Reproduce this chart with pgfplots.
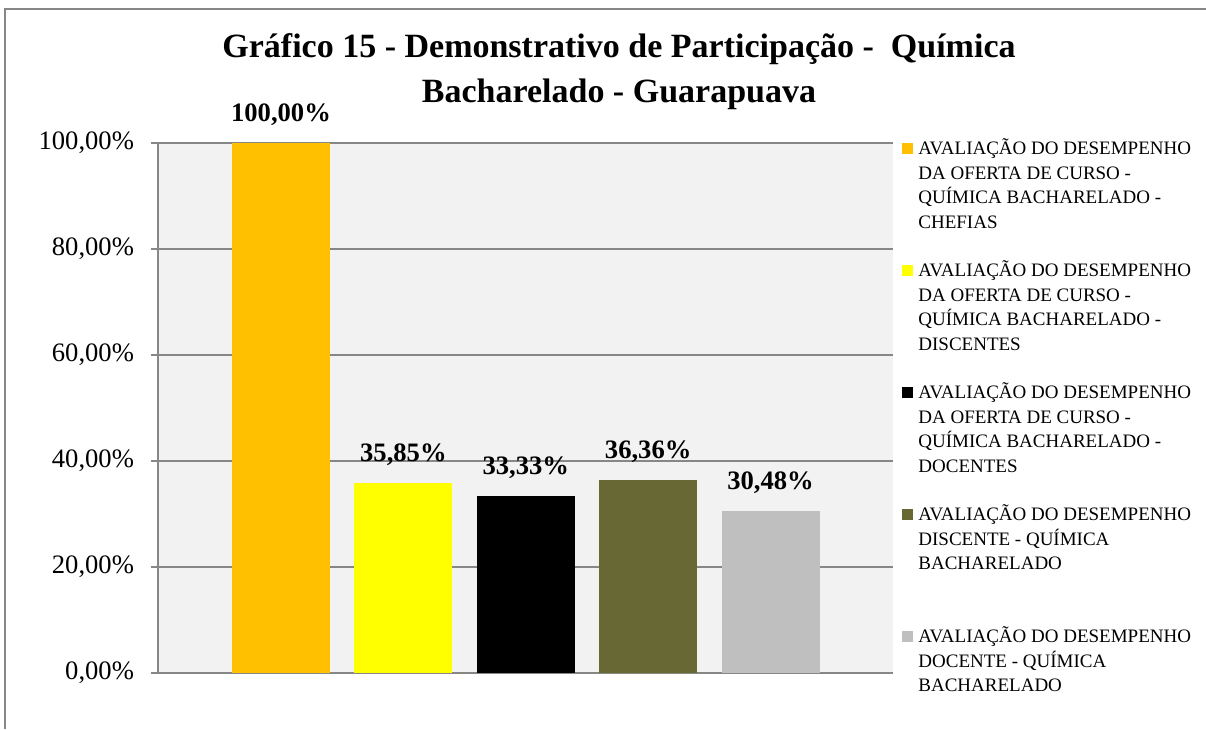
\documentclass[border=0pt]{standalone}
\usepackage{pgfplots}
\pgfplotsset{compat=1.18}
\usepackage{fontspec}
\setmainfont{Liberation Serif}
\definecolor{cOrange}{HTML}{FFC000}
\definecolor{cYellow}{HTML}{FFFF00}
\definecolor{cOlive}{HTML}{686835}
\definecolor{cSilver}{HTML}{BFBFBF}
\definecolor{cGrid}{HTML}{878787}
\definecolor{cBack}{HTML}{F2F2F2}
\newcommand{\legtxt}[1]{\parbox[t][61pt][t]{140pt}{\fontsize{9.5}{12.25}\selectfont #1}}
\begin{document}
\begin{tikzpicture}
\useasboundingbox (-79pt,-28pt) rectangle (524pt,336.5pt);
\draw[cGrid,line width=1pt] (-76.5pt,-28pt) -- (-76.5pt,332pt) -- (524pt,332pt);
\node[font=\fontsize{17}{22.5}\selectfont\bfseries,align=center,anchor=base]
  at (230.5pt,285pt) {Gráfico 15 - Demonstrativo de Participação -\ \ Química\\Bacharelado - Guarapuava};
\begin{axis}[at={(0pt,0pt)},anchor=south west,scale only axis,
  width=367.5pt,height=265pt,
  xmin=-1.005,xmax=5.0,ymin=0,ymax=100,
  ybar,bar width=0.8,bar shift=0pt,
  axis background/.style={fill=cBack},
  axis x line*=bottom, axis y line*=left,
  axis line style={cGrid,line width=0.7pt},
  xtick=\empty,
  ytick={0,20,40,60,80,100},
  ymajorgrids, grid style={cGrid,line width=0.7pt},
  major tick length=3.5pt, tick align=outside,
  tick style={cGrid,line width=0.7pt},
  yticklabel style={font=\fontsize{13.3}{15}\selectfont,xshift=-5pt},
  yticklabel={\pgfmathprintnumber[fixed,fixed zerofill,precision=2,use comma,assume math mode=true]{\tick}\%},
  nodes near coords={\pgfmathprintnumber[fixed,fixed zerofill,precision=2,use comma,assume math mode=true]{\pgfplotspointmeta}\%},
  every node near coord/.append style={font=\fontsize{13.3}{15}\selectfont\bfseries,black,inner sep=0pt,yshift=8.6pt},
  legend image code/.code={\fill[#1,draw=none] (0pt,0.5pt) rectangle (5.5pt,6pt);},
  legend style={at={(1,1)},anchor=north west,xshift=4.5pt,yshift=2.3pt,inner sep=0pt,
    draw=none,fill=none,row sep=0pt,column sep=2.5pt,
    cells={anchor=base west},nodes={inner sep=0pt,text depth={}}},
]
\addplot[fill=cOrange,draw=none] coordinates {(0,100.00)};
\addlegendentry{\legtxt{AVALIAÇÃO DO DESEMPENHO\\DA OFERTA DE CURSO -\\QUÍMICA BACHARELADO -\\CHEFIAS}}
\addplot[fill=cYellow,draw=none] coordinates {(1,35.85)};
\addlegendentry{\legtxt{AVALIAÇÃO DO DESEMPENHO\\DA OFERTA DE CURSO -\\QUÍMICA BACHARELADO -\\DISCENTES}}
\addplot[fill=black,draw=none] coordinates {(2,33.33)};
\addlegendentry{\legtxt{AVALIAÇÃO DO DESEMPENHO\\DA OFERTA DE CURSO -\\QUÍMICA BACHARELADO -\\DOCENTES}}
\addplot[fill=cOlive,draw=none] coordinates {(3,36.36)};
\addlegendentry{\legtxt{AVALIAÇÃO DO DESEMPENHO\\DISCENTE - QUÍMICA\\BACHARELADO}}
\addplot[fill=cSilver,draw=none] coordinates {(4,30.48)};
\addlegendentry{\legtxt{AVALIAÇÃO DO DESEMPENHO\\DOCENTE - QUÍMICA\\BACHARELADO}}
\end{axis}
\end{tikzpicture}
\end{document}
